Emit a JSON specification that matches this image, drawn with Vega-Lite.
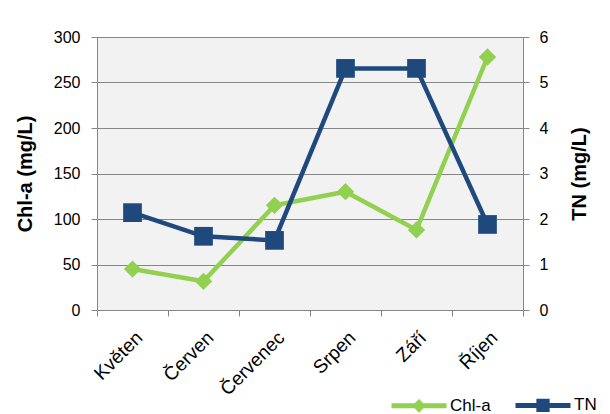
{
  "$schema": "https://vega.github.io/schema/vega-lite/v6.json",
  "autosize": {"type": "none"},
  "padding": {"left": 97, "top": 37, "right": 87, "bottom": 104},
  "width": 426,
  "height": 273,
  "background": "white",
  "config": {
    "font": "Liberation Sans",
    "view": {"fill": "#f2f2f2", "stroke": null},
    "axis": {
      "labelFont": "Liberation Sans",
      "titleFont": "Liberation Sans",
      "labelFontSize": 16,
      "titleFontSize": 20,
      "titleFontWeight": "bold",
      "labelColor": "#000000",
      "titleColor": "#000000",
      "domainColor": "#868686",
      "tickColor": "#868686",
      "gridColor": "#868686",
      "gridOpacity": 1,
      "tickSize": 6
    }
  },
  "data": {
    "values": [
      {"month": "Květen", "series": "Chl-a", "value": 45},
      {"month": "Červen", "series": "Chl-a", "value": 31.5},
      {"month": "Červenec", "series": "Chl-a", "value": 115},
      {"month": "Srpen", "series": "Chl-a", "value": 130},
      {"month": "Září", "series": "Chl-a", "value": 88},
      {"month": "Říjen", "series": "Chl-a", "value": 278},
      {"month": "Květen", "series": "TN", "value": 2.14},
      {"month": "Červen", "series": "TN", "value": 1.62},
      {"month": "Červenec", "series": "TN", "value": 1.53},
      {"month": "Srpen", "series": "TN", "value": 5.31},
      {"month": "Září", "series": "TN", "value": 5.31},
      {"month": "Říjen", "series": "TN", "value": 1.88}
    ]
  },
  "encoding": {
    "x": {
      "field": "month",
      "type": "ordinal",
      "sort": ["Květen", "Červen", "Červenec", "Srpen", "Září", "Říjen"],
      "scale": {"type": "band", "paddingInner": 0, "paddingOuter": 0},
      "bandPosition": 0.5,
      "axis": {"title": null, "labelAngle": -45, "labelFontSize": 19, "tickBand": "extent", "grid": false, "labelPadding": 12, "labelDx": -3}
    },
    "color": {
      "field": "series",
      "type": "nominal",
      "scale": {"domain": ["Chl-a", "TN"], "range": ["#92d050", "#1f497d"]},
      "legend": {
        "title": null,
        "orient": "none",
        "direction": "horizontal",
        "legendX": 292,
        "legendY": 338,
        "symbolSize": 3025,
        "symbolStrokeWidth": 5,
        "labelFontSize": 17,
        "labelFont": "Liberation Sans",
        "labelColor": "#000000",
        "labelOffset": 1,
        "columnPadding": 14,
        "encode": {
          "symbols": {
            "update": {
              "shape": {"signal": "datum.value === 'Chl-a' ? 'M-1,0H1M0,-0.12L0.12,0L0,0.12L-0.12,0Z' : 'M-1,0H1M-0.15,-0.15H0.15V0.15H-0.15Z'"},
              "strokeWidth": {"value": 5}
            }
          }
        }
      }
    }
  },
  "layer": [
    {
      "transform": [{"filter": "datum.series === 'Chl-a'"}],
      "encoding": {
        "y": {
          "field": "value",
          "type": "quantitative",
          "scale": {"domain": [0, 300]},
          "axis": {"title": "Chl-a (mg/L)", "values": [0, 50, 100, 150, 200, 250, 300], "grid": true, "labelPadding": 11, "titlePadding": 18}
        }
      },
      "layer": [
        {"mark": {"type": "line", "strokeWidth": 4.5}},
        {"mark": {"type": "point", "shape": "diamond", "filled": true, "opacity": 1, "size": 300}}
      ]
    },
    {
      "transform": [{"filter": "datum.series === 'TN'"}],
      "encoding": {
        "y": {
          "field": "value",
          "type": "quantitative",
          "scale": {"domain": [0, 6]},
          "axis": {"title": "TN (mg/L)", "orient": "right", "values": [0, 1, 2, 3, 4, 5, 6], "grid": false, "labelPadding": 10, "titleAngle": -90, "titlePadding": 42}
        }
      },
      "layer": [
        {"mark": {"type": "line", "strokeWidth": 4.5}},
        {"mark": {"type": "square", "filled": true, "opacity": 1, "size": 350}}
      ]
    }
  ],
  "resolve": {"scale": {"y": "independent"}}
}
